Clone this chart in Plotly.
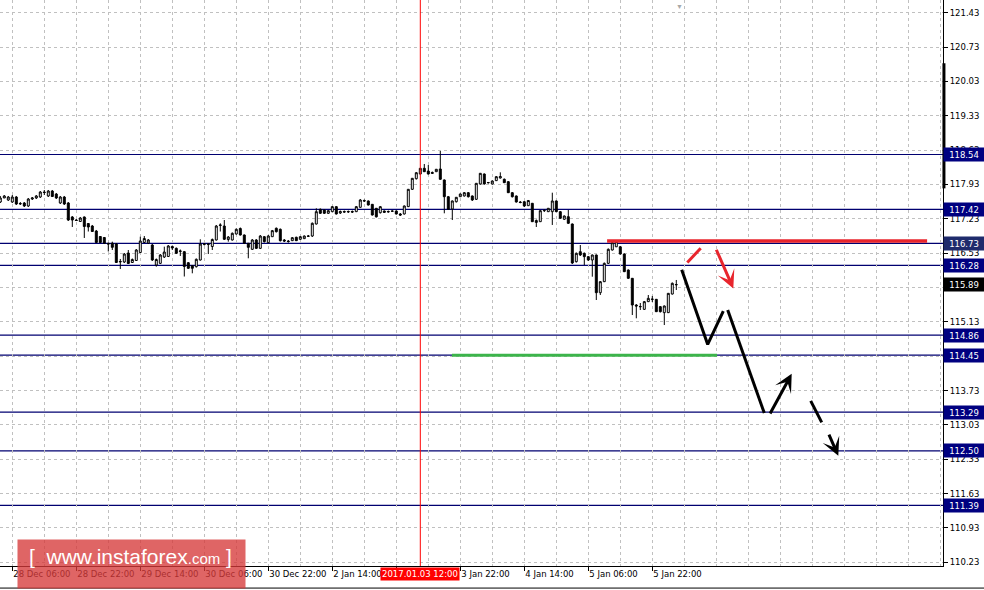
import plotly.graph_objects as go

# ---------------- data (H1 bars, index 0 = 28 Dec 06:00) ----------------
bar_index = list(range(-3, 167))

open_ = [117.572, 117.654, 117.613, 117.572, 117.674, 117.531, 117.552, 117.491, 117.633, 117.654,
         117.674, 117.776, 117.695, 117.796, 117.735, 117.552, 117.674, 117.552, 117.267, 117.205,
         117.175, 117.267, 117.134, 117.083, 116.981, 116.869, 116.849, 116.727, 116.731, 116.716,
         116.349, 116.349, 116.533, 116.339, 116.380, 116.543, 116.747, 116.737, 116.696, 116.288,
         116.322, 116.451, 116.462, 116.665, 116.628, 116.564, 116.560, 116.335, 116.274, 116.254,
         116.390, 116.716, 116.706, 116.665, 116.798, 117.093, 117.083, 116.808, 116.798, 116.920,
         117.032, 116.900, 116.731, 116.608, 116.798, 116.628, 116.865, 116.743, 116.865, 117.036,
         117.016, 116.798, 116.777, 116.784, 116.853, 116.812, 116.825, 116.879, 116.879, 117.124,
         117.423, 117.409, 117.342, 117.375, 117.477, 117.348, 117.378, 117.368, 117.378, 117.375,
         117.464, 117.603, 117.593, 117.525, 117.444, 117.354, 117.389, 117.368, 117.389, 117.389,
         117.328, 117.328, 117.477, 117.831, 118.047, 118.143, 118.259, 118.204, 118.153, 118.190,
         118.245, 118.021, 117.680, 117.430, 117.578, 117.680, 117.695, 117.762, 117.695, 117.627,
         117.939, 118.143, 117.970, 117.939, 118.007, 118.061, 118.035, 117.986, 117.762, 117.695,
         117.572, 117.578, 117.497, 117.546, 117.155, 117.171, 117.395, 117.375, 117.375, 117.593,
         117.375, 117.220, 117.273, 117.124, 116.356, 116.560, 116.526, 116.458, 116.390, 116.492,
         115.724, 115.948, 116.322, 116.594, 116.659, 116.659, 116.512, 116.186, 116.017, 115.473,
         115.442, 115.385, 115.541, 115.595, 115.589, 115.439, 115.317, 115.317, 115.697, 115.884]

high = [117.695, 117.715, 117.695, 117.715, 117.695, 117.572, 117.572, 117.654, 117.674, 117.715,
        117.796, 117.817, 117.817, 117.817, 117.756, 117.695, 117.695, 117.572, 117.287, 117.226,
        117.267, 117.277, 117.144, 117.104, 117.002, 116.879, 116.859, 116.747, 116.764, 116.737,
        116.411, 116.533, 116.594, 116.421, 116.614, 116.865, 116.879, 116.818, 116.716, 116.421,
        116.512, 116.662, 116.696, 116.686, 116.645, 116.604, 116.574, 116.349, 116.288, 116.421,
        116.812, 116.737, 116.727, 116.828, 117.104, 117.138, 117.205, 116.879, 116.951, 117.032,
        117.053, 116.910, 116.737, 116.818, 116.818, 116.900, 116.879, 116.900, 117.002, 117.053,
        117.032, 116.818, 116.798, 116.859, 116.865, 116.879, 116.890, 116.900, 117.155, 117.444,
        117.440, 117.419, 117.409, 117.491, 117.491, 117.399, 117.399, 117.399, 117.399, 117.491,
        117.633, 117.623, 117.603, 117.531, 117.450, 117.491, 117.399, 117.399, 117.399, 117.399,
        117.348, 117.501, 117.837, 118.061, 118.184, 118.265, 118.347, 118.326, 118.194, 118.245,
        118.612, 118.031, 117.695, 117.603, 117.674, 117.745, 117.776, 117.776, 117.705, 117.959,
        118.163, 118.153, 117.980, 118.010, 118.102, 118.177, 118.051, 118.000, 117.776, 117.705,
        117.593, 117.593, 117.613, 117.552, 117.216, 117.409, 117.419, 117.450, 117.762, 117.603,
        117.389, 117.297, 117.409, 117.134, 116.543, 116.696, 116.543, 116.472, 116.502, 116.502,
        115.962, 116.339, 116.625, 116.757, 116.777, 116.676, 116.523, 116.197, 116.023, 115.493,
        115.514, 115.555, 115.677, 115.657, 115.595, 115.453, 115.463, 115.718, 115.932, 115.983]

low = [117.552, 117.654, 117.593, 117.552, 117.511, 117.511, 117.470, 117.470, 117.613, 117.633,
       117.654, 117.715, 117.674, 117.674, 117.633, 117.531, 117.511, 117.185, 117.063, 117.185,
       117.165, 116.839, 116.971, 116.961, 116.737, 116.737, 116.716, 116.564, 116.594, 116.329,
       116.207, 116.329, 116.309, 116.329, 116.370, 116.533, 116.737, 116.716, 116.370, 116.254,
       116.309, 116.431, 116.451, 116.594, 116.512, 116.472, 116.054, 116.207, 116.119, 116.237,
       116.380, 116.686, 116.512, 116.594, 116.788, 116.971, 116.798, 116.764, 116.788, 116.910,
       116.890, 116.716, 116.425, 116.594, 116.614, 116.614, 116.747, 116.737, 116.859, 116.951,
       116.767, 116.757, 116.743, 116.777, 116.777, 116.798, 116.818, 116.859, 116.859, 117.114,
       117.328, 117.328, 117.328, 117.368, 117.318, 117.328, 117.354, 117.348, 117.348, 117.368,
       117.456, 117.572, 117.501, 117.297, 117.256, 117.338, 117.348, 117.354, 117.368, 117.318,
       117.287, 117.318, 117.470, 117.817, 118.031, 118.133, 118.184, 118.133, 118.143, 118.184,
       118.021, 117.342, 117.409, 117.205, 117.562, 117.674, 117.684, 117.664, 117.593, 117.613,
       117.929, 117.929, 117.949, 117.929, 118.000, 118.051, 117.959, 117.756, 117.664, 117.562,
       117.546, 117.470, 117.491, 117.165, 117.063, 117.165, 117.368, 117.368, 117.104, 117.368,
       117.226, 117.205, 117.124, 116.309, 116.339, 116.472, 116.288, 116.370, 116.050, 115.575,
       115.677, 115.942, 116.309, 116.584, 116.655, 116.502, 116.146, 116.003, 115.269, 115.202,
       115.371, 115.371, 115.534, 115.534, 115.330, 115.320, 115.065, 115.310, 115.687, 115.779]

close = [117.654, 117.695, 117.674, 117.674, 117.531, 117.541, 117.491, 117.633, 117.654, 117.695,
         117.776, 117.766, 117.796, 117.684, 117.654, 117.674, 117.531, 117.205, 117.205, 117.195,
         117.246, 117.073, 117.063, 116.971, 116.747, 116.747, 116.731, 116.716, 116.648, 116.339,
         116.360, 116.512, 116.319, 116.400, 116.594, 116.777, 116.828, 116.798, 116.390, 116.400,
         116.492, 116.553, 116.676, 116.635, 116.526, 116.574, 116.258, 116.221, 116.221, 116.404,
         116.716, 116.710, 116.716, 116.808, 117.083, 117.104, 116.812, 116.859, 116.934, 117.016,
         116.900, 116.731, 116.648, 116.798, 116.628, 116.879, 116.764, 116.879, 116.988, 116.967,
         116.784, 116.777, 116.767, 116.845, 116.784, 116.865, 116.879, 116.875, 117.138, 117.375,
         117.342, 117.342, 117.395, 117.477, 117.328, 117.378, 117.368, 117.378, 117.368, 117.477,
         117.613, 117.593, 117.511, 117.307, 117.270, 117.477, 117.362, 117.378, 117.385, 117.328,
         117.307, 117.491, 117.831, 118.055, 118.169, 118.259, 118.190, 118.143, 118.173, 118.239,
         118.035, 117.680, 117.423, 117.593, 117.668, 117.735, 117.762, 117.680, 117.613, 117.953,
         118.157, 117.939, 117.966, 118.000, 118.088, 118.092, 117.966, 117.762, 117.680, 117.572,
         117.562, 117.491, 117.603, 117.171, 117.195, 117.395, 117.403, 117.444, 117.593, 117.375,
         117.240, 117.287, 117.138, 116.329, 116.526, 116.492, 116.458, 116.390, 116.492, 115.724,
         115.948, 116.322, 116.608, 116.743, 116.764, 116.512, 116.152, 116.017, 115.473, 115.453,
         115.439, 115.541, 115.609, 115.589, 115.337, 115.337, 115.453, 115.711, 115.915, 115.890]

x_tick_vals = [0, 16, 32, 48, 64, 80, 96, 112, 128, 144, 160]
x_tick_text = ["28 Dec 06:00", "28 Dec 22:00", "29 Dec 14:00", "30 Dec 06:00", "30 Dec 22:00",
               "2 Jan 14:00", "3 Jan 06:00", "3 Jan 22:00", "4 Jan 14:00", "5 Jan 06:00", "5 Jan 22:00"]
y_tick_vals = [110.23, 110.93, 111.63, 112.33, 113.03, 113.73, 114.43, 115.13, 115.83,
               116.53, 117.23, 117.93, 118.63, 119.33, 120.03, 120.73, 121.43]
y_tick_text = ["%.2f" % v for v in y_tick_vals]

levels = [118.54, 117.42, 116.73, 116.28, 114.86, 114.45, 113.29, 112.50, 111.39]
level_label_colors = ["#000080", "#000080", "#1f2b6c", "#000080", "#000080",
                      "#000080", "#000080", "#000080", "#000080"]
current_price = 115.89
marker_bar = 102
marker_text = "2017.01.03 12:00"

# hand-drawn forecast (bar index, price)
red_level_x = [148.7, 228.7]
red_level_y = [116.78, 116.78]
green_level_x = [109.9, 176.2]
green_level_y = [114.45, 114.45]
wave1_x = [167.35, 173.85, 177.75]
wave1_y = [116.19, 114.67, 115.35]
wave2_x = [178.85, 188.0]
wave2_y = [115.37, 113.27]
dash_x = [199.6, 202.35]
dash_y = [113.52, 113.08]
red_tick_x = [168.75, 172.1]
red_tick_y = [116.34, 116.63]
arrows = [  # (tail_x, tail_y, head_x, head_y, color)
    (175.85, 116.63, 180.25, 115.81, "#e8252d"),
    (189.25, 113.23, 194.85, 114.07, "#000000"),
    (204.0, 112.86, 206.5, 112.40, "#000000"),
]

X_RANGE = [-3.075, 232.675]
Y_RANGE = [110.154, 121.689]
FONT = "DejaVu Sans"
GRID = "#c0c0c0"
DASH = "3px,3px"
LEVEL_COLOR = "#000070"

fig = go.Figure()
fig.add_trace(go.Candlestick(
    x=bar_index, open=open_, high=high, low=low, close=close,
    increasing=dict(line=dict(color="black", width=1), fillcolor="white"),
    decreasing=dict(line=dict(color="black", width=1), fillcolor="black"),
    whiskerwidth=0, showlegend=False, hoverinfo="skip"))

for xs, ys, col, w in [(green_level_x, green_level_y, "#3cb44b", 3),
                       (red_level_x, red_level_y, "#e8252d", 3.5),
                       (wave1_x, wave1_y, "black", 3),
                       (wave2_x, wave2_y, "black", 3),
                       (dash_x, dash_y, "black", 3),
                       (red_tick_x, red_tick_y, "#e8252d", 3)]:
    fig.add_trace(go.Scatter(x=xs, y=ys, mode="lines", line=dict(color=col, width=w),
                             showlegend=False, hoverinfo="skip"))

for tx, ty, hx, hy, col in arrows:
    fig.add_annotation(x=hx, y=hy, ax=tx, ay=ty, xref="x", yref="y", axref="x", ayref="y",
                       text="", showarrow=True, arrowhead=3, arrowsize=1.0, arrowwidth=3,
                       arrowcolor=col, standoff=0, startstandoff=0)

shapes = []
for lv in levels:
    shapes.append(dict(type="line", xref="paper", x0=0, x1=1, yref="y", y0=lv, y1=lv,
                       line=dict(color=LEVEL_COLOR, width=1.2), layer="below"))
shapes.append(dict(type="line", xref="x", x0=marker_bar, x1=marker_bar, yref="paper", y0=0, y1=1,
                   line=dict(color="#ff0000", width=1), layer="above"))
shapes.append(dict(type="line", xref="paper", x0=1.001, x1=1.001, yref="y", y0=117.85, y1=120.40,
                   line=dict(color="black", width=3)))
shapes.append(dict(type="line", xref="paper", x0=0, x1=1.044, yref="paper", y0=-0.039, y1=-0.039,
                   line=dict(color="black", width=1)))

for lv, col in zip(levels, level_label_colors):
    fig.add_annotation(xref="paper", x=1, xanchor="left", yref="y", y=lv, yanchor="middle",
                       text="%.2f" % lv, showarrow=False, bgcolor=col, width=38, height=11,
                       borderpad=1, font=dict(family=FONT, size=8.5, color="white"))
fig.add_annotation(xref="paper", x=1, xanchor="left", yref="y", y=current_price, yanchor="middle",
                   text="%.2f" % current_price, showarrow=False, bgcolor="black", width=38, height=11,
                   borderpad=1, font=dict(family=FONT, size=8.5, color="white"))

# date marker label
fig.add_annotation(xref="x", x=marker_bar, xanchor="center", yref="paper", y=-0.0145,
                   yanchor="middle", text=marker_text, showarrow=False, bgcolor="#ff0000",
                   borderpad=1, font=dict(family=FONT, size=8.5, color="white"))

# chart-shift marker
fig.add_annotation(xref="x", x=166.9, yref="paper", y=1.0, yanchor="top", text="▼",
                   showarrow=False, font=dict(size=7, color="#a8a8a8"))

# watermark
fig.add_annotation(xref="paper", x=17 / 943, xanchor="left", yref="paper", y=27 / 566,
                   yanchor="top", text=" ", showarrow=False, width=227, height=48, borderpad=0,
                   bgcolor="rgba(214,58,58,0.78)")
fig.add_annotation(xref="paper", x=130 / 943, xanchor="center", yref="paper", y=10 / 566,
                   yanchor="middle", showarrow=False,
                   text="[  www.instaforex<span style='font-size:15px'>.com</span> ]",
                   font=dict(family="Liberation Sans", size=21, color="white"))

fig.update_layout(
    width=984, height=590,
    margin=dict(l=0, r=41, t=0, b=24),
    paper_bgcolor="white", plot_bgcolor="white",
    shapes=shapes,
    showlegend=False,
    xaxis=dict(range=X_RANGE, tickmode="array", tickvals=x_tick_vals, ticktext=x_tick_text,
               ticks="outside", ticklen=4, tickcolor="black", showline=True, linecolor="black",
               linewidth=1, showgrid=True, gridcolor=GRID, griddash=DASH, gridwidth=1,
               zeroline=False, rangeslider=dict(visible=False), ticklabelposition="outside right",
               tickangle=0,
               tickfont=dict(family=FONT, size=8.5, color="black"), fixedrange=True,
               minor=dict(tickmode="array", tickvals=list(range(0, 233, 8)), showgrid=True,
                          gridcolor=GRID, griddash=DASH, gridwidth=1, ticks="")),
    yaxis=dict(range=Y_RANGE, side="right", tickmode="array", tickvals=y_tick_vals,
               ticktext=y_tick_text, ticks="outside", ticklen=4, tickcolor="black",
               showline=True, linecolor="black", linewidth=1, showgrid=True, gridcolor=GRID,
               griddash=DASH, gridwidth=1, zeroline=False,
               tickfont=dict(family=FONT, size=8.5, color="black")),
)

fig.write_html("out.html", config={"displayModeBar": False},
               post_script="document.body.style.margin='0';document.body.style.padding='0';")
